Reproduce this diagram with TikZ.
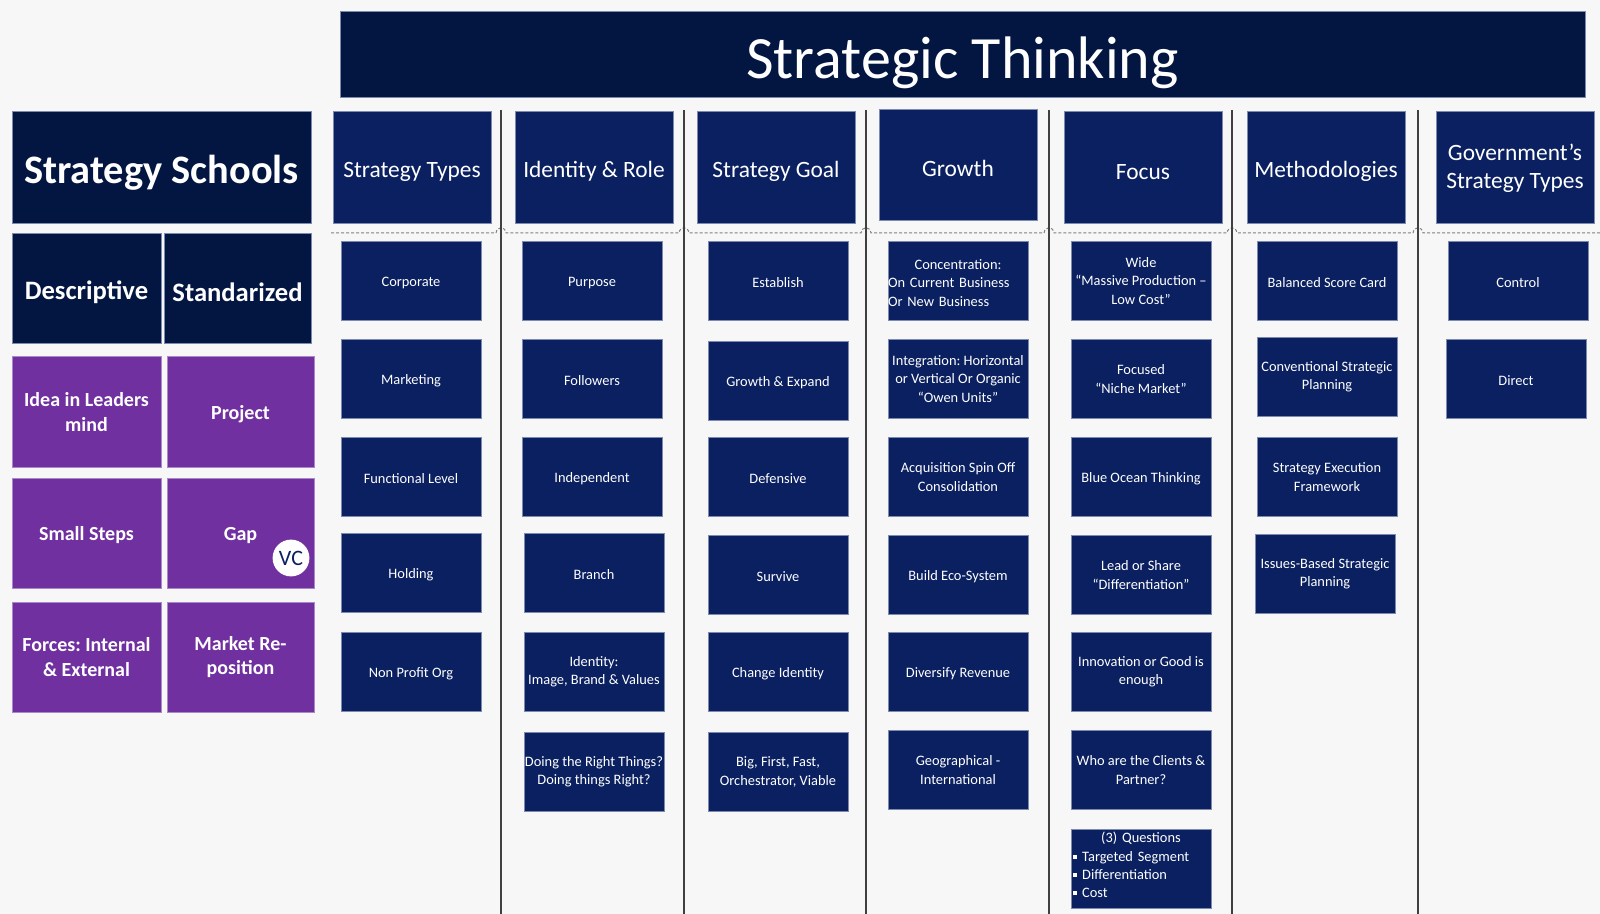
\documentclass[tikz,border=0pt]{standalone}
\usepackage{fontspec}
\setmainfont{Carlito}
\frenchspacing

\definecolor{paper}{HTML}{F7F7F7}
\definecolor{darkblue}{HTML}{021641}
\definecolor{itemblue}{HTML}{0A2060}
\definecolor{boxline}{HTML}{7C8AAE}
\definecolor{schoolpurple}{HTML}{7030A0}
\definecolor{purpleline}{HTML}{A888C8}
\definecolor{sepline}{HTML}{404040}
\definecolor{dashgray}{HTML}{808080}

\begin{document}
\begin{tikzpicture}[x=0.5pt,y=-0.5pt,
 box/.style={draw=boxline,line width=0.5pt,fill=itemblue,text=white,inner sep=0pt,align=center,
   execute at begin node={\rule{0pt}{0.95em}}},
 item/.style={box,minimum width=70pt,minimum height=39.5pt,font=\fontsize{7.2}{9.2}\selectfont},
 head/.style={box,minimum width=79pt,minimum height=56pt,font=\fontsize{11.7}{13.8}\selectfont},
 dark/.style={box,fill=darkblue,minimum height=55pt,font=\bfseries\fontsize{13.3}{16}\selectfont},
 school/.style={box,fill=schoolpurple,draw=purpleline,minimum width=73.5pt,minimum height=55pt,font=\bfseries\fontsize{10}{12.2}\selectfont},
 sep/.style={draw=sepline,line width=1pt},
 dashline/.style={draw=dashgray,line width=0.5pt,dash pattern=on 1.5pt off 1pt}]

 \fill[paper] (0,0) rectangle (1600,914);
 \useasboundingbox (0,0) rectangle (1600,914);

 % title
 \node[box,fill=darkblue,minimum width=622.5pt,minimum height=43pt,font=\fontsize{30}{36}\selectfont] (title) at (962.5,55) {Strategic Thinking};

 % strategy schools
 \node[dark,minimum width=149.5pt,minimum height=56pt,font=\bfseries\fontsize{20.2}{24}\selectfont] (schools) at (161.5,168) {Strategy Schools};
 \node[dark,minimum width=74.5pt] (desc) at (86.5,289) {Descriptive};
 \node[dark,minimum width=73.5pt] (stand) at (237.5,289) {Standarized};

 \foreach \y/\n/\a/\b in {412/1/{Idea in Leaders\\mind}/Project, 533/2/Small Steps/Gap,
   657/3/{Forces: Internal\\\& External}/{Market Re-\\position}} {
  \node[school,minimum width=74.5pt] (desc\n) at (86.5,\y) {\a};
  \node[school] (stand\n) at (240.5,\y) {\b};
 }
 \node[circle,fill=white,minimum size=18.4pt,inner sep=0pt,text=itemblue,font=\fontsize{11}{13}\selectfont] (vc) at (291,558) {VC};

 % separators
 \draw[dashline] (331,233) \foreach \x in {501,684,866,1049,1232,1418} {
   -- (\x-5,233) .. controls (\x-4,226) and (\x+4,226) .. (\x+5,233)} -- (1600,233);
 \foreach \x in {501,684,866,1049,1232,1418}
  \draw[sep] (\x,110) -- (\x,914);

 % column heads
 \foreach \x/\n/\t in {412/types/Strategy Types, 594/role/Identity \& Role, 776/goal/Strategy Goal,
   1143/focus/Focus, 1326/method/Methodologies, 1515/gov/{Government’s\\Strategy Types}}
  \node[head] (\n) at (\x,168) {\t};
 \node[head,minimum height=55.5pt] (growth) at (958,165.5) {Growth};

 % strategy types
 \foreach \y/\n/\t in {281/1/Corporate, 379/2/Marketing, 477/3/Functional Level, 573/4/Holding, 672/5/Non Profit Org}
  \node[item] (types\n) at (411,\y) {\t};

 % identity & role
 \foreach \x/\y/\n/\t in {592/281/1/Purpose, 592/379/2/Followers, 592/477/3/Independent, 594/573/4/Branch,
   594/672/5/{Identity:\\Image, Brand \& Values}, 594/772/6/{Doing the Right Things?\\Doing things Right?}}
  \node[item] (role\n) at (\x,\y) {\t};

 % strategy goal
 \foreach \y/\n/\t in {281/1/Establish, 381/2/Growth \& Expand, 477/3/Defensive, 575/4/Survive,
   672/5/Change Identity, 772/6/{Big, First, Fast,\\Orchestrator, Viable}}
  \node[item] (goal\n) at (778,\y) {\t};

 % growth
 \node[item,text width=70pt,align=left] (growth1) at (958,281)
  {\makebox[70pt]{Concentration:}\\On Current Business\\Or New Business};
 \foreach \y/\n/\t in {379/2/{Integration: Horizontal\\or Vertical Or Organic\\“Owen Units”},
   477/3/{Acquisition Spin Off\\Consolidation}, 575/4/Build Eco-System, 672/5/Diversify Revenue,
   770/6/{Geographical -\\International}}
  \node[item] (growth\n) at (958,\y) {\t};

 % focus
 \foreach \y/\n/\t in {281/1/{Wide\\“Massive Production –\\Low Cost”}, 379/2/{Focused\\“Niche Market”},
   477/3/Blue Ocean Thinking, 575/4/{Lead or Share\\“Differentiation”}, 672/5/{Innovation or Good is\\enough},
   770/6/{Who are the Clients \&\\Partner?}}
  \node[item] (focus\n) at (1141,\y) {\t};
 \node[item,text width=70pt,align=left,execute at end node={\rule[-5pt]{0pt}{5pt}}] (focus7) at (1141,868.5)
  {\makebox[70pt]{(3) Questions}\\
   \hspace*{1pt}\rule[1.3pt]{2pt}{2pt}\hspace{2.6pt}Targeted Segment\\
   \hspace*{1pt}\rule[1.3pt]{2pt}{2pt}\hspace{2.6pt}Differentiation\\
   \hspace*{1pt}\rule[1.3pt]{2pt}{2pt}\hspace{2.6pt}Cost};

 % methodologies
 \foreach \x/\y/\n/\t in {1327/281/1/Balanced Score Card, 1327/377/2/{Conventional Strategic\\Planning},
   1327/477/3/{Strategy Execution\\Framework}, 1325/574/4/{Issues-Based Strategic\\Planning}}
  \node[item] (method\n) at (\x,\y) {\t};

 % government
 \node[item] (gov1) at (1518,281) {Control};
 \node[item] (gov2) at (1516,379) {Direct};
\end{tikzpicture}
\end{document}
